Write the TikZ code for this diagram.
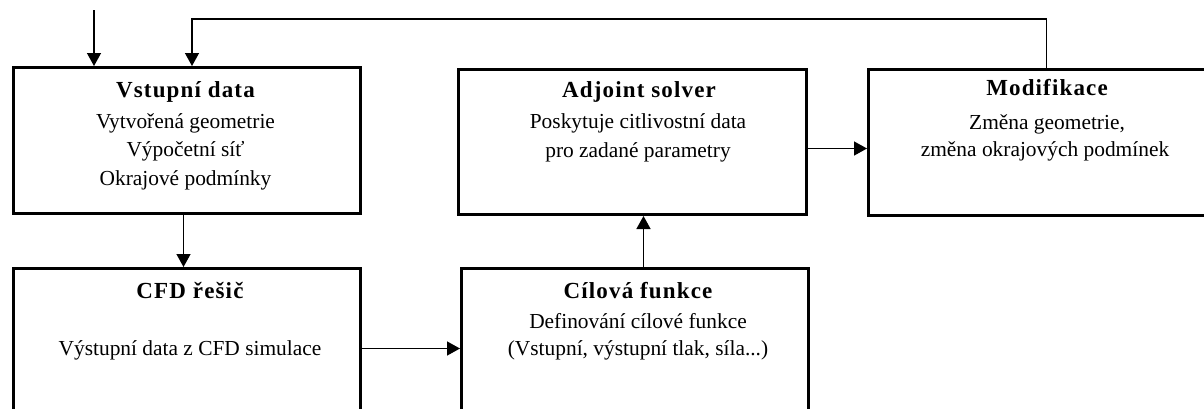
\documentclass[tikz,border=0pt]{standalone}
\usepackage{fontspec}
\setmainfont{Liberation Serif}
\usetikzlibrary{arrows.meta}
\begin{document}
\begin{tikzpicture}[x=1pt,y=-1pt,
  box/.style={draw,line width=3pt,inner sep=0pt,anchor=north west},
  conn/.style={line width=1.4pt,-{Triangle[length=13pt,width=14pt]}},
  ttl/.style={anchor=base,inner sep=0pt,font=\fontsize{23}{28}\selectfont\bfseries\addfontfeature{LetterSpace=5}},
  txt/.style={anchor=base,inner sep=0pt,font=\fontsize{21.4}{28}\selectfont}]
\useasboundingbox (0,0) rectangle (1204,408);
% boxes
\node[box,minimum width=347pt,minimum height=146pt] (vd) at (12,66) {};
\node[box,minimum width=348pt,minimum height=145pt] (adj) at (457,68) {};
\node[box,minimum width=350pt,minimum height=146pt] (mod) at (867,68) {};
\node[box,minimum width=347pt,minimum height=153pt] (cfd) at (12,267) {};
\node[box,minimum width=347pt,minimum height=153pt] (cil) at (460,267) {};
% texts
\node[ttl] (vdt) at (185.5,97) {Vstupní data};
\node[txt] (vd1) at (185.5,128) {Vytvořená geometrie};
\node[txt] (vd2) at (185.5,156.5) {Výpočetní síť};
\node[txt] (vd3) at (185.5,185) {Okrajové podmínky};
\node[ttl] (adjt) at (639,97) {Adjoint solver};
\node[txt] (adj1) at (638,128) {Poskytuje citlivostní data};
\node[txt] (adj2) at (638,157) {pro zadané parametry};
\node[ttl] (modt) at (1047,95) {Modifikace};
\node[txt] (mod1) at (1047,129) {Změna geometrie,};
\node[txt] (mod2) at (1045,156) {změna okrajových podmínek};
\node[ttl] (cfdt) at (190,298) {CFD řešič};
\node[txt] (cfd1) at (190,355) {Výstupní data z CFD simulace};
\node[ttl] (cilt) at (638,298) {Cílová funkce};
\node[txt] (cil1) at (638,328) {Definování cílové funkce};
\node[txt] (cil2) at (638,355) {(Vstupní, výstupní tlak, síla...)};
% connectors
\coordinate (in) at (94,10);
\coordinate (fb) at (192,19);
\draw[conn] (in) -- (in |- vd.north);
\draw[conn] ([xshift=3pt]mod.north) |- (fb) -- (fb |- vd.north);
\draw[conn] ([xshift=-3.5pt]vd.south) -- ([xshift=-3.5pt]vd.south |- cfd.north);
\draw[conn] ([yshift=-3.5pt]cfd.east) -- ([yshift=-3.5pt]cfd.east -| cil.west);
\draw[conn] ([xshift=8.5pt]cil.north) -- ([xshift=8.5pt]cil.north |- adj.south);
\draw[conn] ([yshift=-6.5pt]adj.east) -- ([yshift=-6.5pt]adj.east -| mod.west);
\end{tikzpicture}
\end{document}
